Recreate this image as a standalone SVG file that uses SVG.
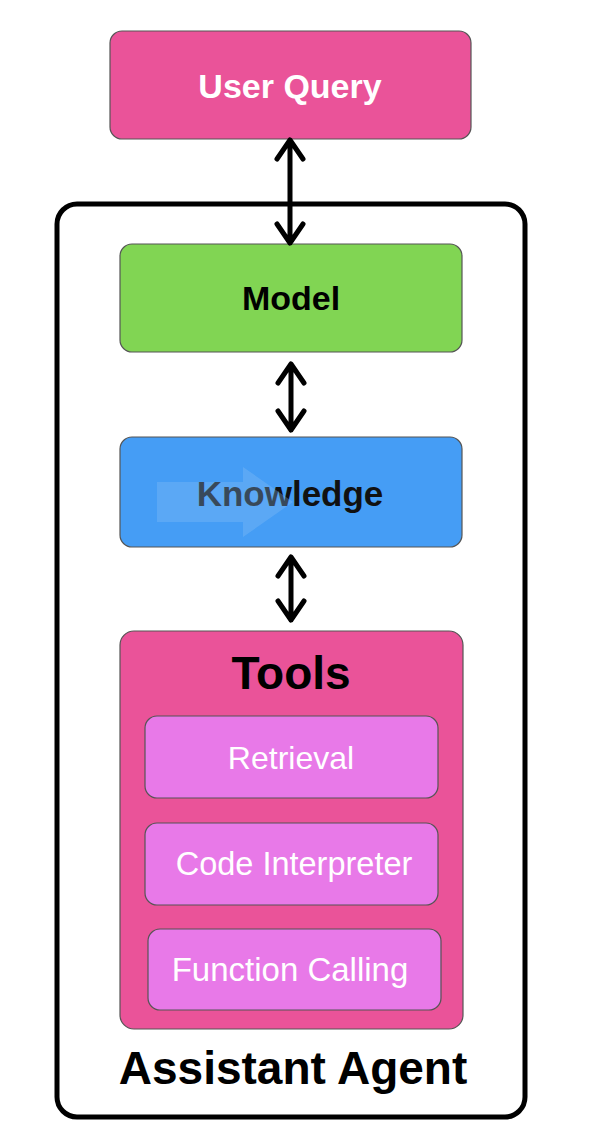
<svg xmlns="http://www.w3.org/2000/svg" width="590" height="1142" viewBox="0 0 590 1142">
<style>
.box{stroke:#555;stroke-width:1.2}
.lbl{font-family:"Liberation Sans",Arial,sans-serif;text-anchor:middle;dominant-baseline:central}
.b{font-weight:bold}
.conn{fill:none;stroke:#000;stroke-width:5;stroke-linecap:round;stroke-linejoin:round}
</style>
<rect width="590" height="1142" fill="#fff"/>
<g id="assistant-agent">
<rect x="57" y="204" width="468" height="913" rx="20" fill="#fff" stroke="#000" stroke-width="5"/>
<text class="lbl b" x="293" y="1068" font-size="46" fill="#000">Assistant Agent</text>
</g>
<g id="user-query">
<rect class="box" x="110" y="31" width="361" height="108" rx="12" fill="#EA5399"/>
<text class="lbl b" x="290" y="86" font-size="34" fill="#fff">User Query</text>
</g>
<g id="model">
<rect class="box" x="120" y="244" width="342" height="108" rx="12" fill="#81D553"/>
<text class="lbl b" x="291" y="298" font-size="34" fill="#000">Model</text>
</g>
<g id="knowledge">
<rect class="box" x="120" y="437" width="342" height="110" rx="12" fill="#459DF5"/>
<text class="lbl b" x="290" y="493" font-size="35" fill="#111">Knowledge</text>
<path d="M157 482 H243 V467 L293 502 L243 537 V522 H157 Z" fill="#8CC2F5" opacity="0.32"/>
</g>
<g id="tools">
<rect class="box" x="120" y="631" width="343" height="398" rx="14" fill="#EA5399"/>
<text class="lbl b" x="291" y="673" font-size="46" fill="#000">Tools</text>
</g>
<g id="retrieval">
<rect class="box" x="145" y="716" width="293" height="82" rx="12" fill="#E879E8"/>
<text class="lbl" x="291" y="758" font-size="32" fill="#fff">Retrieval</text>
</g>
<g id="code-interpreter">
<rect class="box" x="145" y="823" width="293" height="82" rx="12" fill="#E879E8"/>
<text class="lbl" x="294" y="864" font-size="32.5" fill="#fff">Code Interpreter</text>
</g>
<g id="function-calling">
<rect class="box" x="148" y="929" width="293" height="81" rx="12" fill="#E879E8"/>
<text class="lbl" x="290" y="969" font-size="33" fill="#fff">Function Calling</text>
</g>
<g id="connectors">
<path class="conn" d="M290 140 V243 M277 159 L290 140 L303 159 M277 224 L290 243 L303 224"/>
<path class="conn" d="M291 364 V430 M278 383 L291 364 L304 383 M278 411 L291 430 L304 411"/>
<path class="conn" d="M291 557 V620 M278 576 L291 557 L304 576 M278 601 L291 620 L304 601"/>
</g>
</svg>
